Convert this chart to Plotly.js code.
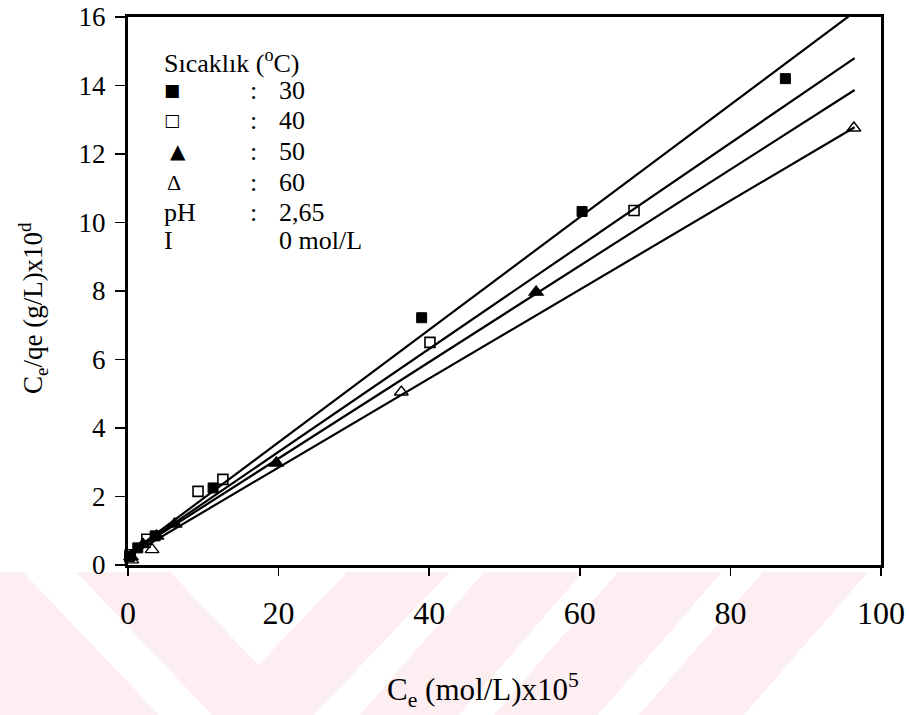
<!DOCTYPE html>
<html>
<head>
<meta charset="utf-8">
<script src="https://cdn.plot.ly/plotly-3.0.1.min.js"></script>
<style>
  html, body { margin: 0; padding: 0; background: #ffffff; }
  #wrap { position: relative; width: 909px; height: 715px; overflow: hidden; }
  #mark { position: absolute; left: 0; top: 0; z-index: 0; }
  #chart { position: absolute; left: 0; top: 0; z-index: 1; width: 909px; height: 715px; }
</style>
</head>
<body>
<div id="wrap">
  <!-- faint diagonal page watermark under the axis area -->
  <svg id="mark" width="909" height="715" xmlns="http://www.w3.org/2000/svg">
    <g fill="#fdeef1">
      <polygon points="0,572 23,572 159,715 0,715"/>
      <polygon points="76,572 170,572 306,715 212,715"/>
      <polygon points="347,572 450,572 314,715 211,715"/>
      <polygon points="484,572 583,572 459,715 360,715"/>
      <polygon points="618,572 722,572 598,715 494,715"/>
      <polygon points="763,572 868,572 744,715 639,715"/>
    </g>
  </svg>
  <div id="chart"></div>
</div>
<script>
// Langmuir linearisation: Ce/qe versus Ce at four temperatures
const ce30 = [0.2, 1.3, 3.6, 11.3, 39.0, 60.3, 87.3];
const ratio30 = [0.25, 0.5, 0.85, 2.25, 7.22, 10.32, 14.2];

const ce40 = [0.3, 2.5, 9.3, 12.6, 40.1, 67.2];
const ratio40 = [0.3, 0.75, 2.15, 2.5, 6.5, 10.35];

const ce50 = [0.4, 2.0, 3.8, 6.2, 19.7, 54.2];
const ratio50 = [0.25, 0.6, 0.85, 1.2, 2.98, 7.97];

const ce60 = [0.5, 3.2, 36.3, 96.4];
const ratio60 = [0.15, 0.45, 5.05, 12.76];

// straight-line fits, given by their two end points
const fitCe = [0, 96.5];
const fit30 = [0.3, 16.15];
const fit40 = [0.3, 14.8];
const fit50 = [0.3, 13.87];
const fit60 = [0.25, 12.78];

const xTicks = [0, 20, 40, 60, 80, 100];
const yTicks = [0, 2, 4, 6, 8, 10, 12, 14, 16];

const legendTemps = ['30', '40', '50', '60'];
const legendGlyphs = ['\u25A0', '\u25A1', '\u25B2', '\u0394'];
const phValue = '2,65';
const ionicValue = '0 mol/L';

const textFamily = 'Liberation Serif';
const glyphFamily = 'DejaVu Sans';

function fitLine(y) {
  return { x: fitCe, y: y, mode: 'lines', showlegend: false, hoverinfo: 'skip',
           line: { color: 'black', width: 2.2 } };
}
function pts(x, y, symbol, size, lw) {
  return { x: x, y: y, mode: 'markers', showlegend: false, cliponaxis: false,
           marker: { symbol: symbol, size: size, color: 'black',
                     line: { color: 'black', width: lw } } };
}

const traces = [
  fitLine(fit30), fitLine(fit40), fitLine(fit50), fitLine(fit60),
  pts(ce30, ratio30, 'square', 10, 1),
  pts(ce40, ratio40, 'square-open', 10, 1.6),
  pts(ce50, ratio50, 'triangle-up', 13, 1),
  pts(ce60, ratio60, 'triangle-up-open', 12, 1.4)
];

// plot area in pixels: x 128..881, y 17..565
const L = 128, R = 881, T = 17, B = 565;
const px = v => (v - L) / (R - L);
const py = v => (B - v) / (B - T);

const ann = [];
function text(t, x, y, size, anchor, family) {
  ann.push({ text: t, xref: 'paper', yref: 'paper', x: px(x), y: py(y),
             xanchor: anchor || 'left', yanchor: 'middle', showarrow: false,
             font: { family: family || textFamily, size: size, color: 'black' } });
}

text('S\u0131cakl\u0131k (<sup>o</sup>C)', 162, 61, 26);
const rowY = [90, 120, 151, 182];
const glyphSize = [17, 17, 20, 22];
const glyphX = [172, 172, 178, 174];
legendTemps.forEach((t, i) => {
  text(legendGlyphs[i], glyphX[i], rowY[i], glyphSize[i], 'center',
       i === 3 ? textFamily : glyphFamily);
  text(':', 253, rowY[i], 26, 'center');
  text(t, 277, rowY[i], 26);
});
text('pH', 162, 212, 26);
text(':', 253, 212, 26, 'center');
text(phValue, 277, 212, 26);
text('I', 162, 241, 26);
text(ionicValue, 277, 241, 26);

// axis titles
ann.push({ text: 'C<sub>e</sub>/qe (g/L)x10<sup>d</sup>', xref: 'paper', yref: 'paper',
           x: px(33), y: py(308), xanchor: 'center', yanchor: 'middle', textangle: -90,
           showarrow: false, font: { family: textFamily, size: 27, color: 'black' } });
ann.push({ text: 'C<sub>e</sub> (mol/L)x10<sup>5</sup>', xref: 'paper', yref: 'paper',
           x: px(483), y: py(690), xanchor: 'center', yanchor: 'middle',
           showarrow: false, font: { family: textFamily, size: 31, color: 'black' } });

const layout = {
  width: 909, height: 715,
  margin: { l: L, r: 909 - R, t: T, b: 715 - B, pad: 0 },
  paper_bgcolor: 'rgba(0,0,0,0)',
  plot_bgcolor: 'white',
  showlegend: false,
  xaxis: {
    range: [0, 100], tickvals: xTicks, ticktext: xTicks.map(String),
    showgrid: false, zeroline: false, showline: true, mirror: true,
    linecolor: 'black', linewidth: 3,
    ticks: 'outside', tickcolor: 'black', tickwidth: 1.5,
    ticklen: 8, ticklabelstandoff: 10,
    tickfont: { family: textFamily, size: 32, color: 'black' }
  },
  yaxis: {
    range: [0, 16], tickvals: yTicks, ticktext: yTicks.map(String),
    showgrid: false, zeroline: false, showline: true, mirror: true,
    linecolor: 'black', linewidth: 3,
    ticks: 'outside', tickcolor: 'black', tickwidth: 1.5,
    ticklen: 10, ticklabelstandoff: 4,
    tickfont: { family: textFamily, size: 27, color: 'black' }
  },
  annotations: ann
};

Plotly.newPlot('chart', traces, layout, { staticPlot: true, displayModeBar: false });
</script>
</body>
</html>
